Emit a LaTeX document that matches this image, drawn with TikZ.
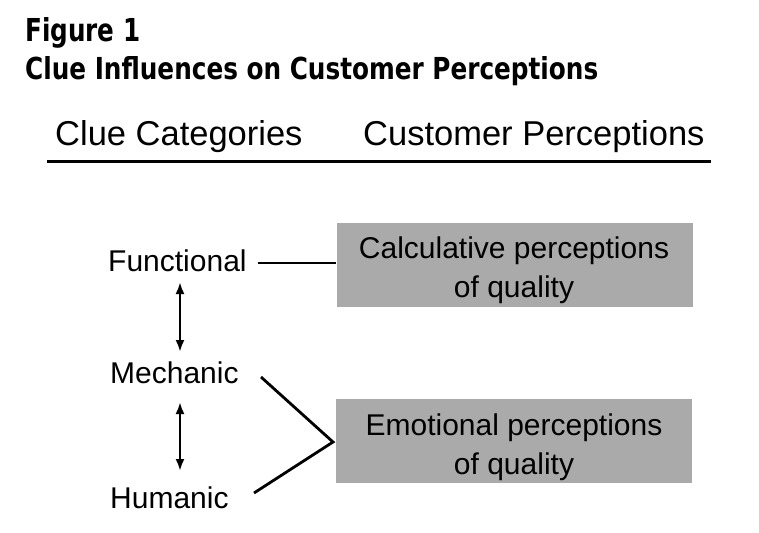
\documentclass[tikz,border=0pt]{standalone}
\usepackage{fontspec}
\setmainfont{Liberation Sans}
\newfontfamily\titlefont{DejaVu Sans Condensed}
\usetikzlibrary{arrows.meta}
\definecolor{boxgray}{RGB}{170,170,170}
\begin{document}
\begin{tikzpicture}[x=1pt,y=-1pt,
  lbl/.style={font=\fontsize{30}{34}\selectfont, inner sep=0pt},
  hdr/.style={font=\fontsize{34.5}{38}\selectfont, inner sep=0pt},
  percbox/.style={fill=boxgray, draw=none, minimum width=356pt, minimum height=84pt, inner sep=0pt},
  perctext/.style={align=center, inner sep=0pt, font=\fontsize{30}{39}\selectfont},
  conn/.style={line width=2.8pt},
  biarrow/.style={line width=2.3pt, {Latex[length=12pt,width=9pt]}-{Latex[length=12pt,width=9pt]}}
]
\useasboundingbox (0,0) rectangle (759,532);
% titles
\node[anchor=base west, inner sep=0pt] (fig) at (25,42) {\resizebox{115pt}{24pt}{\titlefont\bfseries Figure 1}};
\node[anchor=base west, inner sep=0pt] (title) at (25,80) {\resizebox{573pt}{23pt}{\titlefont\bfseries Clue Influences on Customer Perceptions}};
% headers
\node[hdr, anchor=base west] (h1) at (55,145) {Clue Categories};
\node[hdr, anchor=base west] (h2) at (363,145) {Customer Perceptions};
\coordinate (rl) at (47,161);
\coordinate (rr) at (711,161);
\draw[line width=3pt] (rl) -- (rr);
% left labels
\node[lbl, anchor=base west] (fun) at (108,271) {Functional};
\node[lbl, anchor=base west] (mech) at (110,383) {Mechanic};
\node[lbl, anchor=base west] (hum) at (110,508) {Humanic};
% boxes
\node[percbox] (calc) at (514.5,265) {};
\node[perctext, anchor=base] (calct) at (514,297) {Calculative perceptions\\of quality};
\node[percbox] (emo) at (513.5,441) {};
\node[perctext, anchor=base] (emot) at (514,474) {Emotional perceptions\\of quality};
% connectors
\coordinate (fa1) at (180,282);
\coordinate (fa2) at (180,352);
\coordinate (ma1) at (180,402);
\coordinate (ma2) at (180,471);
\draw[biarrow] (fa1) -- (fa2);
\draw[biarrow] (ma1) -- (ma2);
\coordinate (fe) at (258,263);
\draw[conn] (fe) -- (calc.west |- fe);
\coordinate (me) at (261,377);
\coordinate (he) at (254,493);
\coordinate (apex) at (333,442);
\draw[conn] (me) -- (apex) -- (he);
\end{tikzpicture}
\end{document}
